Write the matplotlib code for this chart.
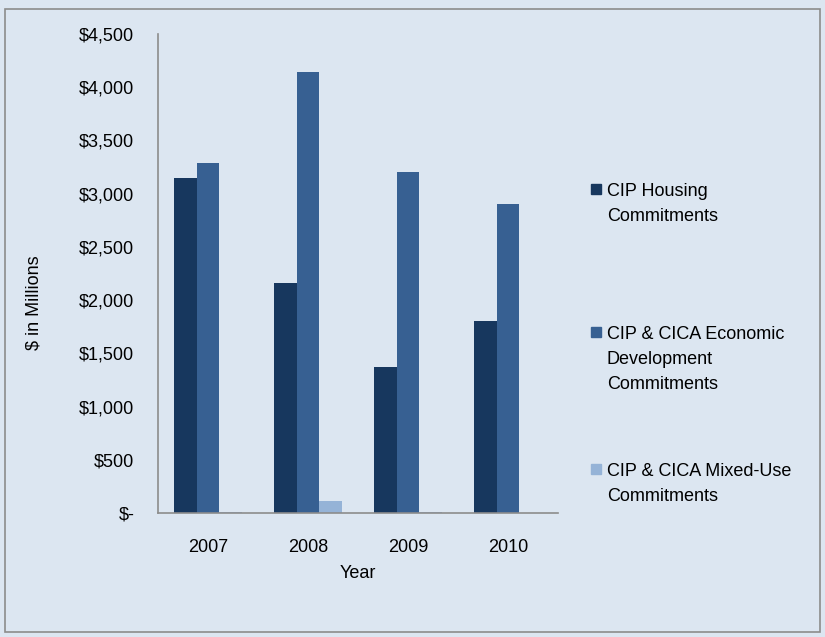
import numpy as np
import matplotlib.pyplot as plt
from matplotlib.patches import Rectangle
from matplotlib.ticker import FuncFormatter, MultipleLocator

years = ["2007", "2008", "2009", "2010"]
housing = [3147, 2161, 1372, 1804]
econ_dev = [3288, 4143, 3204, 2903]
mixed_use = [12, 113, 6, 3]

series_labels = [
    ["CIP Housing", "Commitments"],
    ["CIP & CICA Economic", "Development", "Commitments"],
    ["CIP & CICA Mixed-Use", "Commitments"],
]
colors = ["#17375E", "#376092", "#95B3D7"]
bg = "#DCE6F1"
fs = 13

plt.rcParams["font.family"] = ["Liberation Sans", "DejaVu Sans"]

fig = plt.figure(figsize=(8.25, 6.37), dpi=100, facecolor=bg)
ax = fig.add_axes([158 / 825, 1 - 513 / 637, 400 / 825, 479 / 637])
ax.set_facecolor(bg)

x = np.arange(len(years))
width = 0.225
for i, (vals, c) in enumerate(zip([housing, econ_dev, mixed_use], colors)):
    ax.bar(x + (i - 1) * width, vals, width, color=c, zorder=2)

ax.set_xlim(-0.5, 3.5)
ax.set_ylim(0, 4500)
ax.yaxis.set_major_locator(MultipleLocator(500))
ax.yaxis.set_major_formatter(FuncFormatter(lambda v, _: "$-" if v == 0 else f"${v:,.0f}"))
ax.set_xticks(x, years)
ax.tick_params(axis="y", length=0, pad=17, labelsize=fs)
ax.tick_params(axis="x", length=0, pad=19, labelsize=fs)

for side in ("top", "right"):
    ax.spines[side].set_visible(False)
for side in ("left", "bottom"):
    ax.spines[side].set_color("#8C8C8C")
    ax.spines[side].set_linewidth(1.2)

ax.set_xlabel("Year", fontsize=fs, labelpad=6)
ax.set_ylabel("$ in Millions", fontsize=fs)
ax.yaxis.set_label_coords(-0.29, 0.44)

# legend drawn by hand so each square sits beside the first line of its label
W, H = 825, 637
first_lines = [190, 333, 470]
line_step = 25
for lines, c, ty in zip(series_labels, colors, first_lines):
    fig.add_artist(Rectangle((591 / W, 1 - (ty + 4) / H), 10 / W, 10 / H,
                             transform=fig.transFigure, color=c))
    for k, line in enumerate(lines):
        fig.text(607 / W, 1 - (ty + 6 + k * line_step) / H, line, fontsize=fs,
                 va="baseline")

# outer frame
fig.add_artist(Rectangle((5 / W, 5 / H), 815 / W, 623 / H, transform=fig.transFigure,
                         fill=False, edgecolor="#8C8C8C", linewidth=1.2))

fig.savefig("out.png", dpi=100, facecolor=bg)
